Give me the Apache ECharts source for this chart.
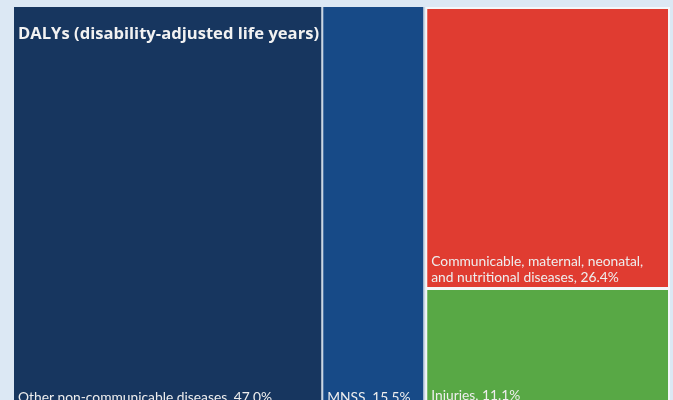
<!DOCTYPE html>
<html>
<head>
<meta charset="utf-8">
<script src="https://cdn.jsdelivr.net/npm/echarts@6/dist/echarts.min.js"></script>
<style>
html,body{margin:0;padding:0;background:#dce8f4;}
#chart{width:673px;height:400px;}
</style>
</head>
<body>
<div id="chart"></div>
<script>
// Data
const titleText = 'DALYs (disability-adjusted life years)';
const categories = ['Other non-communicable diseases', 'MNSS', 'Communicable, maternal, neonatal,\nand nutritional diseases', 'Injuries'];
const values = [47.0, 15.5, 26.4, 11.1];
// index groups: the last two share a column
const groups = [[0], [1], [2, 3]];
const colors = ['#17365f', '#174a87', '#e03c31', '#58a845'];

const FONT = 'Lato';

function leaf(i) {
  return { name: categories[i], value: values[i], itemStyle: { color: colors[i] } };
}
const data = groups.map(function (g) {
  if (g.length === 1) return leaf(g[0]);
  const children = g.map(leaf);
  const sum = g.reduce(function (s, i) { return s + values[i]; }, 0);
  return {
    name: '',
    value: sum,
    label: { show: false },
    itemStyle: { borderWidth: 2, borderColor: '#f4f7fa', gapWidth: 3 },
    children: children
  };
});

const chart = echarts.init(document.getElementById('chart'));
chart.setOption({
  backgroundColor: '#dce8f4',
  animation: false,
  title: {
    text: titleText,
    left: 18,
    top: 26,
    padding: 0,
    textStyle: { color: '#f2f2f2', fontSize: 16.6, fontWeight: 'bold', fontFamily: 'Open Sans' }
  },
  series: [{
    type: 'treemap',
    left: 14,
    top: 7,
    width: 656,
    height: 400,
    roam: false,
    nodeClick: false,
    sort: false,
    breadcrumb: { show: false },
    upperLabel: { show: false },
    label: {
      show: true,
      position: 'insideBottomLeft',
      distance: 1,
      padding: [0, 0, 0, 3],
      color: '#eeeeee',
      fontSize: 13.8,
      fontFamily: FONT,
      lineHeight: 16,
      formatter: function (p) { return p.name + ', ' + Number(p.value).toFixed(1) + '%'; }
    },
    levels: [
      { itemStyle: { borderWidth: 0, gapWidth: 2, borderColor: '#c9d6e3' } },
      { itemStyle: { borderWidth: 0, gapWidth: 3, borderColor: '#f4f7fa' } },
      { itemStyle: { borderWidth: 0, gapWidth: 0 } }
    ],
    data: data
  }]
});
</script>
</body>
</html>
